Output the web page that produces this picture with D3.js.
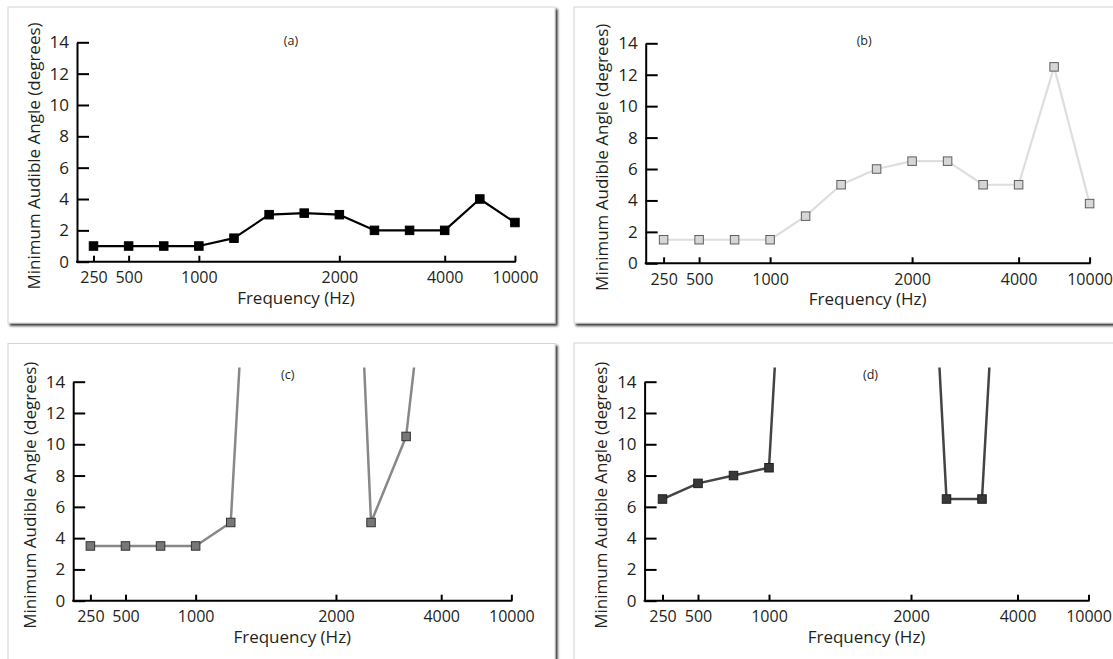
<!DOCTYPE html>
<html>
<head>
<meta charset="utf-8">
<script src="https://cdn.jsdelivr.net/npm/d3@7"></script>
<style>
  html, body { margin: 0; padding: 0; background: #fff; }
  svg { display: block; font-family: "Open Sans", "Noto Sans", sans-serif; }
</style>
</head>
<body>
<svg id="chart" width="1113" height="659"></svg>
<script>
// Test frequencies (Hz), one point per frequency, evenly spaced along x
const frequencies = [250, 500, 750, 1000, 1250, 1500, 1750, 2000, 2500, 3000, 4000, 6000, 10000];
// Frequencies that carry a tick label
const tickFrequencies = [250, 500, 1000, 2000, 4000, 10000];
// Y axis ticks (degrees)
const yTicks = [0, 2, 4, 6, 8, 10, 12, 14];

// Minimum audible angle (degrees) per frequency; null = not measured.
// Values above 14 are off the scale and only show as steep line segments.
const seriesA = [1, 1, 1, 1, 1.5, 3, 3.1, 3, 2, 2, 2, 4, 2.5];
const seriesB = [1.5, 1.5, 1.5, 1.5, 3, 5, 6, 6.5, 6.5, 5, 5, 12.5, 3.8];
const seriesC = [3.5, 3.5, 3.5, 3.5, 5, 45, null, 56, 5, 10.5, 30, null, null];
const seriesD = [6.5, 7.5, 8, 8.5, 48, null, null, 49, 6.5, 6.5, 47, null, null];

const panelLetters = ["(a)", "(b)", "(c)", "(d)"];
const xTitle = "Frequency (Hz)";
const yTitle = "Minimum Audible Angle (degrees)";

// Panel layout and styling
const panels = [
  { data: seriesA, letter: panelLetters[0],
    frame: { x: 8, y: 7, w: 547, h: 316 },
    axisX: 77, yBottom: 261.7, yTop: 42.3, xFirst: 93.5, step: 35.12,
    titleDx: -5, titleY: 44.5,
    line: "#000", lineWidth: 2.2, fill: "#000", stroke: "#000" },
  { data: seriesB, letter: panelLetters[1],
    frame: { x: 574, y: 7, w: 560, h: 316 },
    axisX: 645.7, yBottom: 263.3, yTop: 43.3, xFirst: 663.6, step: 35.5,
    titleDx: -3.5, titleY: 44.5,
    line: "#dedede", lineWidth: 2.2, fill: "#d6d6d6", stroke: "#5e5e5e" },
  { data: seriesC, letter: panelLetters[2],
    frame: { x: 8, y: 343.5, w: 547, h: 340 },
    axisX: 73.2, yBottom: 600.7, yTop: 381.7, xFirst: 90.4, step: 35.08,
    titleDx: -4.5, titleY: 378.5,
    line: "#888", lineWidth: 2.5, fill: "#777", stroke: "#333" },
  { data: seriesD, letter: panelLetters[3],
    frame: { x: 574, y: 343, w: 560, h: 340 },
    axisX: 644.6, yBottom: 600.7, yTop: 381.7, xFirst: 662.5, step: 35.5,
    titleDx: 4, titleY: 378.5,
    line: "#444", lineWidth: 2.5, fill: "#383838", stroke: "#1e1e1e" }
];

const svg = d3.select("#chart");
const defs = svg.append("defs");

const shadow = defs.append("filter").attr("id", "frameShadow")
  .attr("x", "-5%").attr("y", "-5%").attr("width", "110%").attr("height", "110%");
shadow.append("feDropShadow")
  .attr("dx", 2.2).attr("dy", 2.4).attr("stdDeviation", 1.3)
  .attr("flood-color", "#000").attr("flood-opacity", 0.8);

// Frames first so no shadow falls on a neighbouring plot
panels.forEach(p => {
  svg.append("rect")
    .attr("x", p.frame.x).attr("y", p.frame.y)
    .attr("width", p.frame.w).attr("height", p.frame.h)
    .attr("fill", "#fff")
    .attr("stroke", "#d4d4d4").attr("stroke-width", 1)
    .attr("filter", "url(#frameShadow)");
});

panels.forEach((p, i) => {
  const g = svg.append("g");

  const x = d3.scalePoint()
    .domain(frequencies)
    .range([p.xFirst, p.xFirst + p.step * (frequencies.length - 1)]);
  const y = d3.scaleLinear().domain([0, 14]).range([p.yBottom, p.yTop]);

  // Y axis: ticks point inward
  const yAxis = d3.axisLeft(y).tickValues(yTicks)
    .tickSizeInner(-12).tickSizeOuter(0).tickPadding(8);
  const yg = g.append("g").attr("transform", `translate(${p.axisX},0)`).call(yAxis);
  yg.select(".domain").attr("stroke", "#000").attr("stroke-width", 2);
  yg.selectAll(".tick line").attr("stroke", "#000").attr("stroke-width", 2);
  yg.selectAll(".tick text").attr("font-size", 17).attr("fill", "#231f20")
    .attr("font-family", "Open Sans, Noto Sans, sans-serif");

  // X axis: ticks point inward (upward)
  const xAxis = d3.axisBottom(x).tickValues(tickFrequencies)
    .tickSizeInner(-6).tickSizeOuter(0).tickPadding(10).tickFormat(d3.format("d"));
  const xg = g.append("g").attr("transform", `translate(0,${p.yBottom})`).call(xAxis);
  xg.select(".domain").remove();
  xg.selectAll(".tick line").attr("stroke", "#000").attr("stroke-width", 2);
  xg.selectAll(".tick text").attr("font-size", 16).attr("fill", "#231f20")
    .attr("font-family", "Open Sans, Noto Sans, sans-serif");
  xg.append("line")
    .attr("x1", p.axisX - 1).attr("x2", x.range()[1] + 1)
    .attr("y1", 0).attr("y2", 0)
    .attr("stroke", "#000").attr("stroke-width", 2);

  // Axis titles
  g.append("text")
    .attr("x", (p.axisX + x.range()[1]) / 2)
    .attr("y", p.yBottom + 42)
    .attr("text-anchor", "middle")
    .attr("font-size", 17).attr("fill", "#231f20")
    .text(xTitle);
  g.append("text")
    .attr("transform", `translate(${p.axisX - 37.5},${(p.yBottom + p.yTop) / 2 + 4}) rotate(-90)`)
    .attr("text-anchor", "middle")
    .attr("font-size", 17).attr("fill", "#231f20")
    .text(yTitle);

  // Panel letter
  g.append("text")
    .attr("x", (p.axisX + x.range()[1]) / 2 + p.titleDx)
    .attr("y", p.titleY)
    .attr("text-anchor", "middle")
    .attr("font-size", 12.5).attr("fill", "#231f20")
    .text(p.letter);

  // Off-scale segments stop just above the top tick
  const clipId = `plotClip${i}`;
  defs.append("clipPath").attr("id", clipId).append("rect")
    .attr("x", p.axisX - 20).attr("y", y(14.9))
    .attr("width", x.range()[1] - p.axisX + 40)
    .attr("height", p.yBottom - y(14.9) + 20);

  const pts = frequencies.map((f, k) => ({ f, v: p.data[k] }));
  const plot = g.append("g").attr("clip-path", `url(#${clipId})`);

  const line = d3.line()
    .defined(d => d.v != null)
    .x(d => x(d.f)).y(d => y(d.v));

  plot.append("path")
    .datum(pts)
    .attr("d", line)
    .attr("fill", "none")
    .attr("stroke", p.line)
    .attr("stroke-width", p.lineWidth)
    .attr("stroke-linejoin", "round");

  const size = 8.5;
  plot.selectAll("rect.marker")
    .data(pts.filter(d => d.v != null && d.v <= 14))
    .join("rect")
    .attr("class", "marker")
    .attr("x", d => x(d.f) - size / 2)
    .attr("y", d => y(d.v) - size / 2)
    .attr("width", size).attr("height", size)
    .attr("fill", p.fill)
    .attr("stroke", p.stroke).attr("stroke-width", 1);
});
</script>
</body>
</html>
